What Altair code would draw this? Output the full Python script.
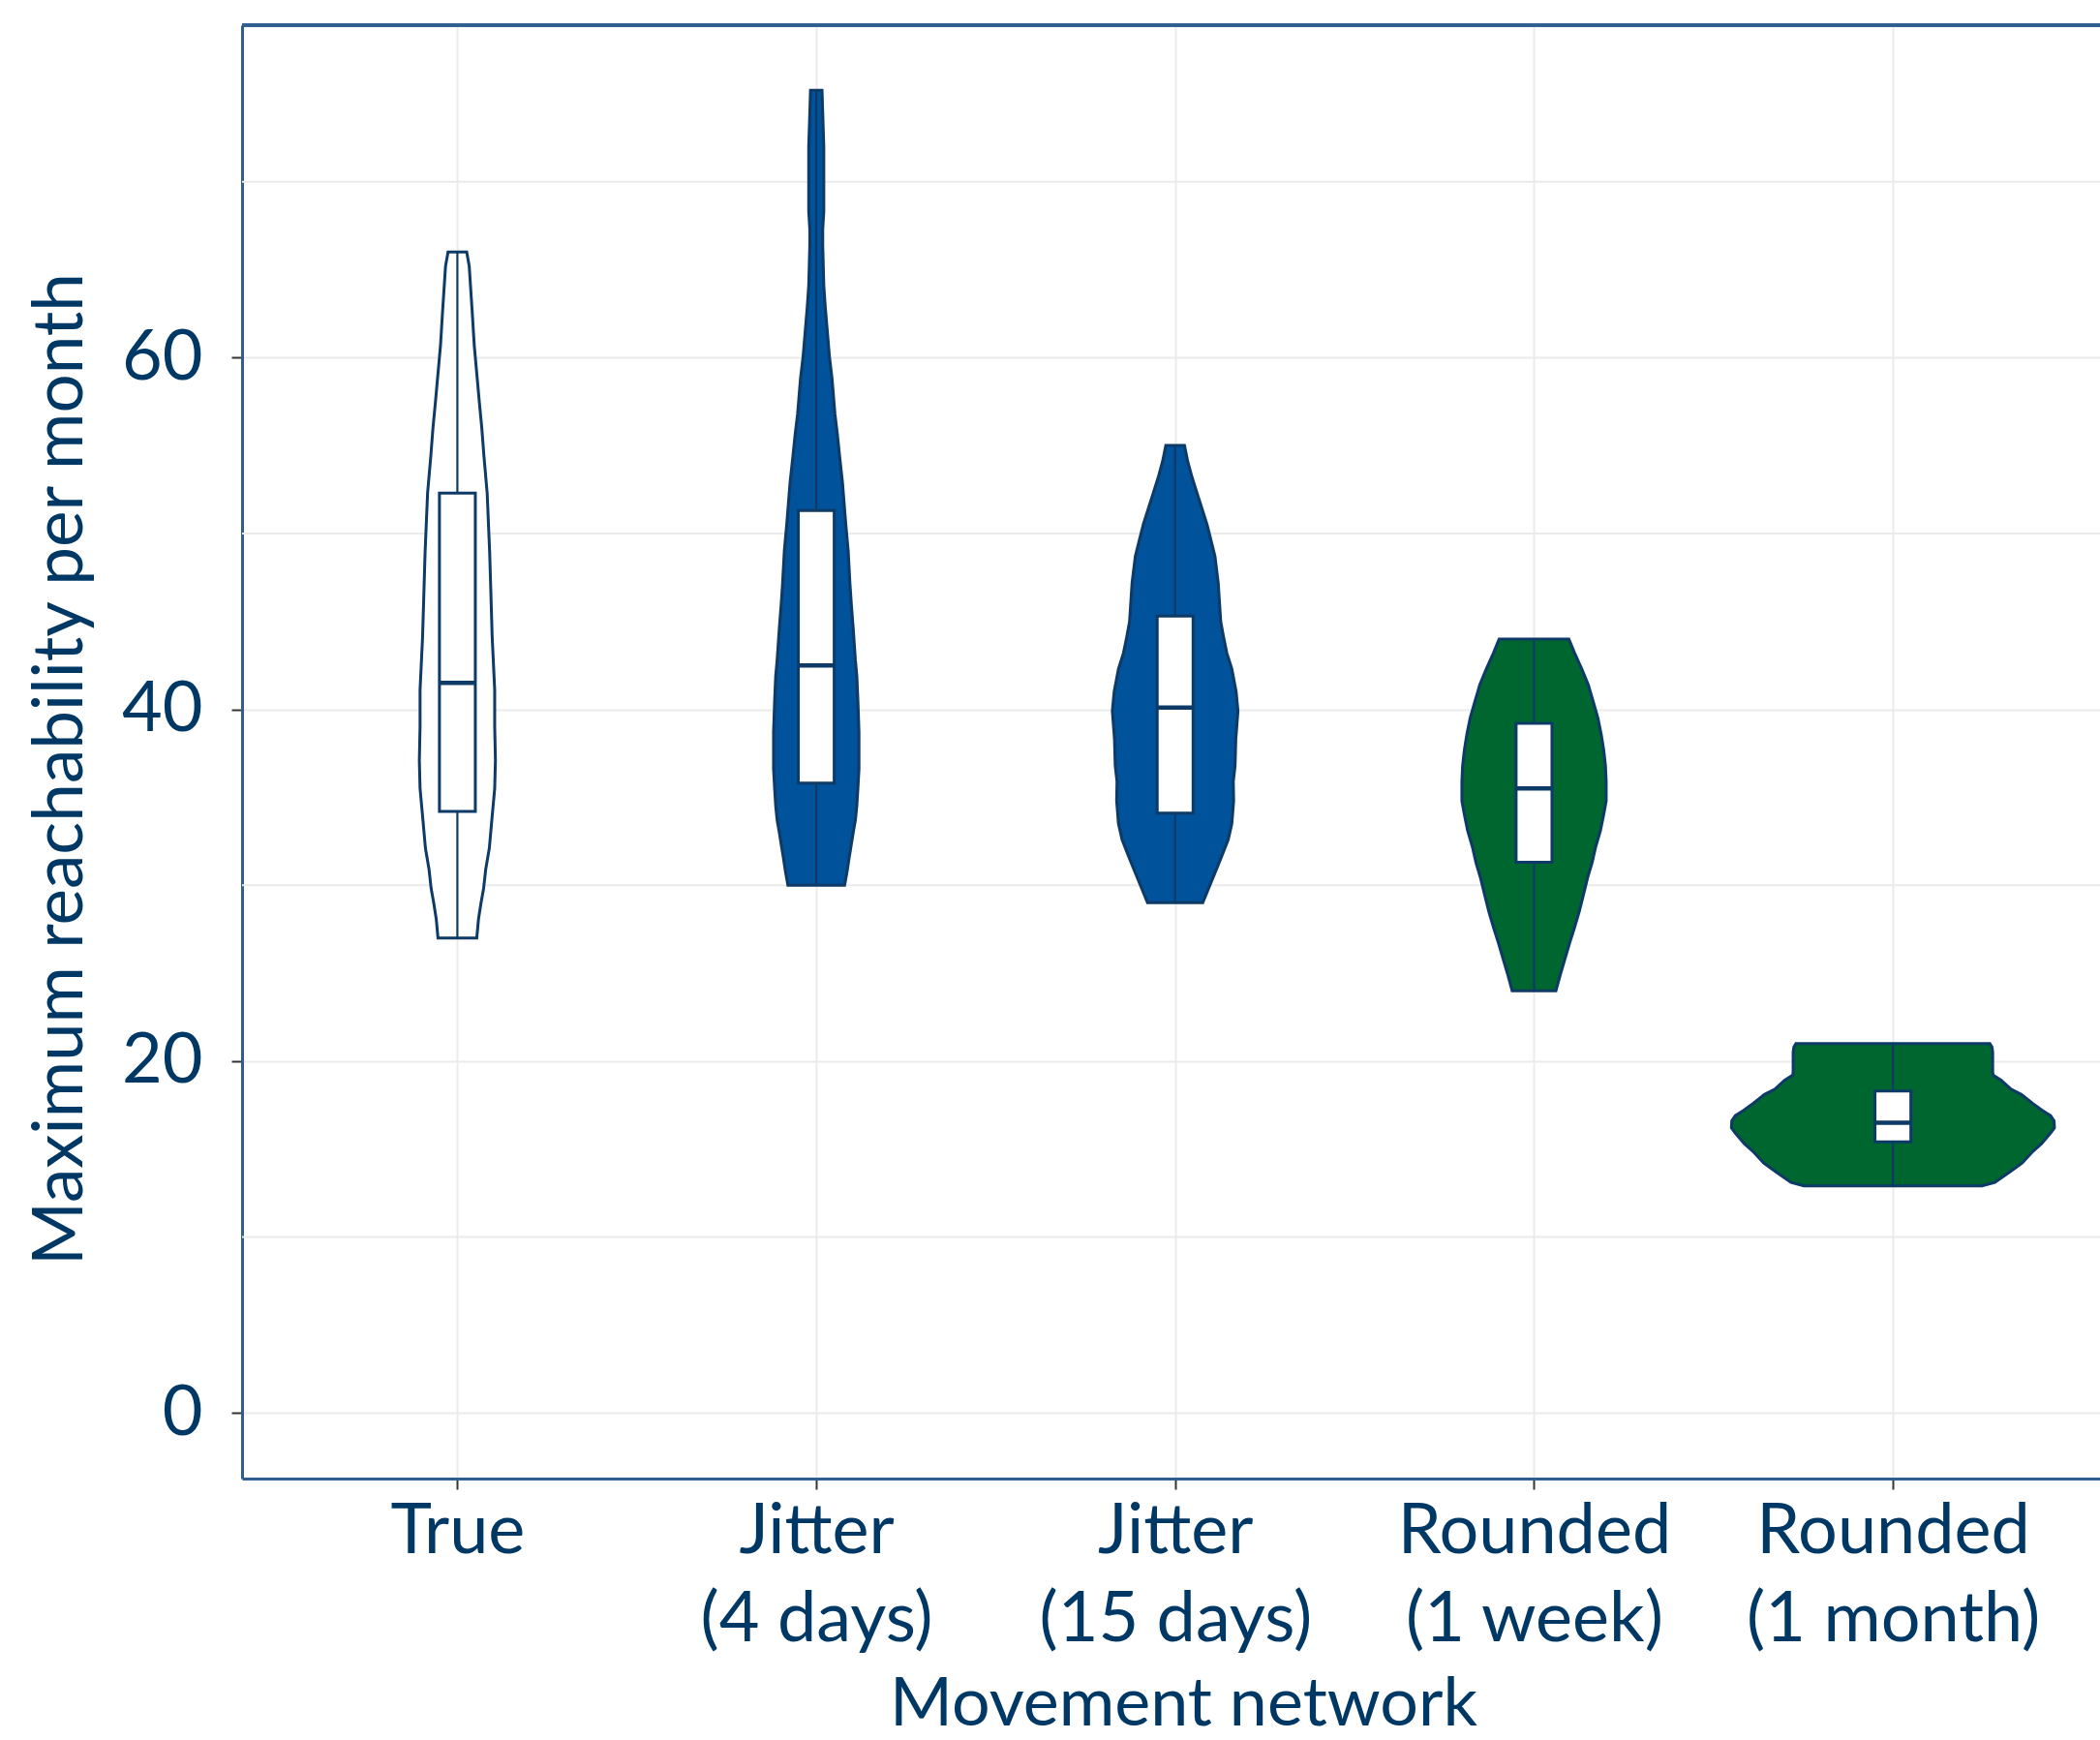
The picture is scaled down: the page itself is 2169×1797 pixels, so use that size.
import altair as alt
import pandas as pd

# Movement network categories (position 1..5 on the x axis)
categories = ["True", "Jitter (4 days)", "Jitter (15 days)", "Rounded (1 week)", "Rounded (1 month)"]
label_lines = [["True"], ["Jitter", "(4 days)"], ["Jitter", "(15 days)"],
               ["Rounded", "(1 week)"], ["Rounded", "(1 month)"]]
fill_colors = ["#ffffff", "#00529b", "#00529b", "#00662f", "#00662f"]

# Violin outlines: reachability level and half-width (in category units)
true_y = [27.0, 28.1, 29.0, 29.8, 30.9, 32.1, 33.7, 35.5, 37.1, 39.0, 41.1, 44.1, 48.9,
          52.3, 54.4, 56.0, 57.5, 59.1, 60.7, 62.7, 65.2, 66.0]
true_w = [0.054, 0.059, 0.066, 0.073, 0.079, 0.089, 0.096, 0.104, 0.106, 0.104, 0.104, 0.097,
          0.090, 0.083, 0.074, 0.068, 0.061, 0.054, 0.047, 0.041, 0.033, 0.026]

jit4_y = [30.0, 30.8, 31.6, 32.1, 33.0, 33.7, 34.5, 35.5, 36.6, 38.7, 40.5, 41.9, 42.8, 44.6,
          45.9, 47.1, 49.0, 50.6, 52.9, 54.4, 55.6, 56.8, 58.8, 60.0, 61.2, 62.9, 64.1, 66.4,
          67.3, 68.3, 72.0, 75.2]
jit4_w = [0.079, 0.086, 0.092, 0.096, 0.103, 0.109, 0.113, 0.116, 0.119, 0.119, 0.116, 0.113,
          0.109, 0.103, 0.098, 0.094, 0.089, 0.082, 0.073, 0.065, 0.059, 0.052, 0.044, 0.037,
          0.032, 0.025, 0.021, 0.018, 0.018, 0.021, 0.021, 0.016]

jit15_y = [29.0, 29.9, 30.8, 31.7, 32.6, 33.5, 34.8, 35.9, 36.8, 38.3, 39.9, 41.0, 42.3, 43.2,
           44.1, 45.0, 47.2, 48.7, 49.6, 50.5, 51.4, 52.3, 53.2, 54.1, 55.0]
jit15_w = [0.077, 0.095, 0.113, 0.131, 0.148, 0.158, 0.163, 0.162, 0.167, 0.169, 0.175, 0.170,
           0.158, 0.144, 0.135, 0.127, 0.120, 0.111, 0.100, 0.089, 0.075, 0.061, 0.047, 0.035,
           0.026]

week_y = [24.0, 24.9, 25.8, 26.7, 27.6, 28.5, 29.4, 30.4, 31.3, 32.2, 33.1, 34.0, 34.8, 35.9,
          36.8, 37.7, 38.6, 39.5, 40.5, 41.4, 42.3, 43.2, 44.0]
week_w = [0.061, 0.073, 0.086, 0.099, 0.113, 0.126, 0.137, 0.149, 0.162, 0.172, 0.185, 0.194,
          0.201, 0.201, 0.199, 0.194, 0.187, 0.178, 0.164, 0.151, 0.133, 0.113, 0.097]

month_y = [12.9, 13.1, 13.7, 14.2, 14.8, 15.3, 15.9, 16.2, 16.6, 16.9, 17.2, 17.6, 18.1, 18.4,
           18.9, 19.2, 19.4, 20.5, 20.8, 21.0]
month_w = [0.248, 0.284, 0.326, 0.360, 0.387, 0.414, 0.439, 0.450, 0.449, 0.439, 0.416, 0.389,
           0.358, 0.329, 0.302, 0.279, 0.278, 0.278, 0.276, 0.270]

# Box plot summaries
box_min = [27.0, 30.0, 29.0, 24.0, 12.9]
box_q1 = [34.2, 35.8, 34.1, 31.3, 15.4]
box_med = [41.5, 42.5, 40.1, 35.5, 16.5]
box_q3 = [52.3, 51.3, 45.3, 39.2, 18.3]
box_max = [66.0, 75.2, 55.0, 44.0, 21.0]

minor_grid = [10, 30, 50, 70]

NAVY = "#0d3a66"
TEXT = "#003865"
FRAME = "#2f5f8f"
FONT = "Lato"

violin_rows = []
for i, (ys, ws) in enumerate([(true_y, true_w), (jit4_y, jit4_w), (jit15_y, jit15_w),
                               (week_y, week_w), (month_y, month_w)]):
    pos = i + 1
    for y, w in zip(ys, ws):
        violin_rows.append({"group": categories[i], "y": y, "xl": pos - w, "xr": pos + w})
violins = pd.DataFrame(violin_rows)

boxes = pd.DataFrame({
    "group": categories,
    "pos": [1, 2, 3, 4, 5],
    "lo": box_min, "q1": box_q1, "med": box_med, "q3": box_q3, "hi": box_max,
})
boxes["bl"] = boxes["pos"] - 0.05
boxes["br"] = boxes["pos"] + 0.05

W, H = 1919, 1501
x_dom = [0.4, 5.577]
y_dom = [-3.74, 78.9]

# Multi-line tick labels for the category axis
label_expr = " : ".join(
    f"datum.value == {i + 1} ? {lines!r}" for i, lines in enumerate(label_lines)
) + " : ''"

x_scale = alt.Scale(domain=x_dom, nice=False, zero=False)
y_scale = alt.Scale(domain=y_dom, nice=False, zero=False)

x_axis = alt.Axis(values=[1, 2, 3, 4, 5], labelExpr=label_expr, title="Movement network",
                  grid=True, gridColor="#ebebeb", gridWidth=2,
                  domainColor=FRAME, domainWidth=3,
                  tickColor="#333333", tickWidth=2, tickSize=11,
                  labelFont=FONT, labelFontSize=72, labelColor=TEXT, labelPadding=8,
                  labelLineHeight=91, labelAngle=0, labelLimit=0,
                  titleFont=FONT, titleFontSize=70, titleColor=TEXT, titleFontWeight="normal",
                  titlePadding=18, titleX=972)
y_axis = alt.Axis(values=[0, 20, 40, 60], title="Maximum reachability per month",
                  grid=True, gridColor="#ebebeb", gridWidth=2,
                  domainColor=FRAME, domainWidth=3,
                  tickColor="#333333", tickWidth=2, tickSize=11,
                  labelFont=FONT, labelFontSize=72, labelColor=TEXT, labelPadding=30,
                  titleFont=FONT, titleFontSize=71, titleColor=TEXT, titleFontWeight="normal",
                  titlePadding=26, titleY=768)

base_axes = alt.Chart(boxes).mark_point(opacity=0).encode(
    x=alt.X("pos:Q", scale=x_scale, axis=x_axis),
    y=alt.Y("med:Q", scale=y_scale, axis=y_axis),
)

minor = alt.Chart(pd.DataFrame({"v": minor_grid})).mark_rule(
    color="#ebebeb", strokeWidth=2
).encode(y=alt.Y("v:Q", scale=y_scale))

violin = alt.Chart(violins).mark_area(
    orient="horizontal", stroke=NAVY, strokeWidth=3, strokeJoin="miter"
).encode(
    y=alt.Y("y:Q", scale=y_scale),
    x=alt.X("xl:Q", scale=x_scale, stack=None),
    x2="xr:Q",
    fill=alt.Fill("group:N", scale=alt.Scale(domain=categories, range=fill_colors), legend=None),
    detail="group:N",
)

whisker = alt.Chart(boxes).mark_rule(color=NAVY, strokeWidth=2.2).encode(
    x=alt.X("pos:Q", scale=x_scale), y=alt.Y("lo:Q", scale=y_scale), y2="hi:Q"
)

box = alt.Chart(boxes).mark_bar(fill="white", stroke=NAVY, strokeWidth=3).encode(
    x=alt.X("bl:Q", scale=x_scale), x2="br:Q",
    y=alt.Y("q1:Q", scale=y_scale), y2="q3:Q",
)

median = alt.Chart(boxes).mark_rule(color=NAVY, strokeWidth=4.5).encode(
    x=alt.X("bl:Q", scale=x_scale), x2="br:Q", y=alt.Y("med:Q", scale=y_scale)
)

# Top edge of the panel frame
top_edge = alt.Chart(boxes).mark_rule(color=FRAME, strokeWidth=3).encode(
    x=alt.value(0), x2=alt.value(W), y=alt.value(0)
)

chart = alt.layer(base_axes, minor, violin, whisker, box, median, top_edge).properties(
    width=W, height=H,
    autosize=alt.AutoSizeParams(type="none"),
    padding={"left": 250, "top": 26, "right": 0, "bottom": 270},
    background="white",
).configure_view(stroke=None)

chart.save("out.html", embed_options={"renderer": "svg", "actions": False})
